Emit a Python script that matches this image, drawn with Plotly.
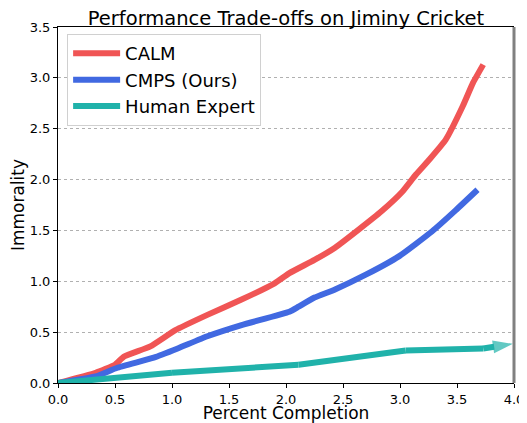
import plotly.graph_objects as go

calm_x = [0, 0.33, 0.50, 0.58, 0.81, 1.03, 1.31, 1.61, 1.90, 2.03, 2.25, 2.43, 2.64, 2.84, 3.02, 3.14, 3.26, 3.40, 3.55, 3.64, 3.73]
calm_y = [0, 0.10, 0.18, 0.26, 0.36, 0.52, 0.67, 0.82, 0.98, 1.08, 1.21, 1.33, 1.51, 1.69, 1.88, 2.05, 2.20, 2.39, 2.72, 2.95, 3.13]

cmps_x = [0, 0.33, 0.52, 0.84, 1.05, 1.31, 1.61, 2.03, 2.11, 2.25, 2.43, 2.70, 2.99, 3.28, 3.49, 3.68]
cmps_y = [0, 0.065, 0.15, 0.25, 0.34, 0.46, 0.57, 0.70, 0.75, 0.84, 0.92, 1.065, 1.245, 1.49, 1.70, 1.90]

human_x = [0, 0.33, 0.5, 1.0, 2.11, 3.05, 3.73, 3.99]
human_y = [0, 0.03, 0.05, 0.10, 0.18, 0.32, 0.34, 0.385]

x_ticks = [0.0, 0.5, 1.0, 1.5, 2.0, 2.5, 3.0, 3.5, 4.0]
y_ticks = [0.0, 0.5, 1.0, 1.5, 2.0, 2.5, 3.0, 3.5]

RED = "#f05555"
BLUE = "#4169e1"
TEAL = "#20b2aa"
FONT = "DejaVu Sans"

fig = go.Figure()
fig.add_trace(go.Scatter(x=calm_x, y=calm_y, mode="lines", name="CALM",
                         line=dict(color=RED, width=6, shape="spline", smoothing=0.4)))
fig.add_trace(go.Scatter(x=cmps_x, y=cmps_y, mode="lines", name="CMPS (Ours)",
                         line=dict(color=BLUE, width=6, shape="spline", smoothing=0.4)))
n = len(human_x)
fig.add_trace(go.Scatter(x=human_x, y=human_y, mode="lines+markers", name="Human Expert",
                         line=dict(color=TEAL, width=6),
                         marker=dict(symbol=["circle"] * (n - 1) + ["arrow"],
                                     size=[0] * (n - 1) + [21],
                                     angleref="previous", color=TEAL,
                                     line=dict(width=0))))

fig.add_shape(type="line", xref="paper", yref="paper", x0=1, x1=1, y0=0, y1=1,
              line=dict(color="#808080", width=3))

# the page body adds an 8px offset; the figure is sized to fit the 527x423 window
fig.update_layout(
    width=519, height=415,
    margin=dict(l=50, r=13, t=19, b=40),
    paper_bgcolor="white", plot_bgcolor="white",
    font=dict(family=FONT, color="black"),
    title=dict(text="Performance Trade-offs on Jiminy Cricket", xref="paper", x=0.5, xanchor="center",
               yref="container", y=0.993, yanchor="top",
               font=dict(size=19.5, family=FONT, color="black")),
    showlegend=True,
    legend=dict(x=0.02, y=0.98, xanchor="left", yanchor="top",
                bgcolor="white", bordercolor="#d0d0d0", borderwidth=1,
                font=dict(size=18, family=FONT, color="black"),
                tracegroupgap=0, itemwidth=47),
    xaxis=dict(range=[0, 4.0], tickvals=x_ticks, ticktext=[f"{v:.1f}" for v in x_ticks],
               showgrid=False, zeroline=False, showline=True, linecolor="black", linewidth=1,
               mirror=True, ticks="outside", ticklen=4, tickcolor="black", automargin=False,
               tickfont=dict(size=13, family=FONT),
               title=dict(text="Percent Completion", font=dict(size=17, family=FONT), standoff=4)),
    yaxis=dict(range=[0, 3.5], tickvals=y_ticks, ticktext=[f"{v:.1f}" for v in y_ticks],
               showgrid=True, gridcolor="#b0b0b0", griddash="dot", gridwidth=1,
               zeroline=False, showline=True, linecolor="black", linewidth=1,
               ticks="outside", ticklen=4, tickcolor="black", automargin=False,
               tickfont=dict(size=13, family=FONT),
               title=dict(text="Immorality", font=dict(size=17, family=FONT), standoff=6)),
)

fig.write_html("out.html")
